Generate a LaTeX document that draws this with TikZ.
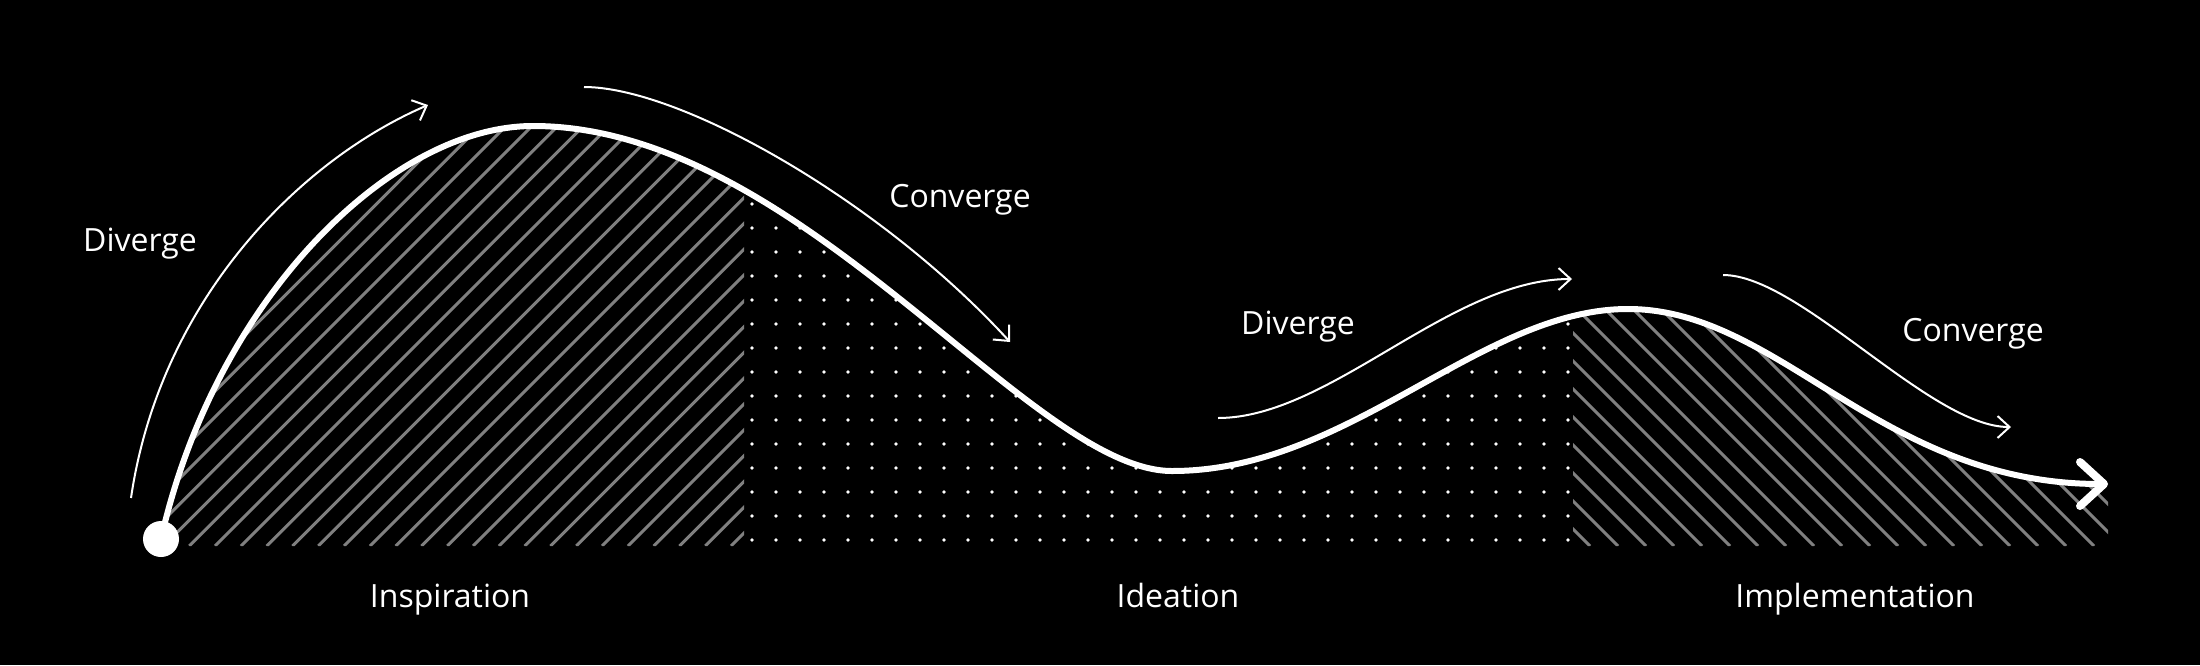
\documentclass[tikz,border=0pt]{standalone}
\usepackage{fontspec}
\setmainfont{Open Sans}
\usetikzlibrary{arrows.meta}

\begin{document}
\begin{tikzpicture}[x=0.5pt, y=-0.5pt,
    lbl/.style={text=white, inner sep=0pt, anchor=base, font=\fontsize{16}{19}\selectfont},
    thinarrow/.style={white, line width=1pt, -{Straight Barb[length=6pt, width=11pt]}},
    mainline/.style={white, line width=3pt, -{Straight Barb[length=12pt, width=22pt, line width=4pt, round]}},
    hatch/.style={gray, line width=1.5pt},
    wavepath/.style={insert path={(start) .. controls (215,300) and (390,126) .. (top1)
        .. controls (800,126) and (1030,471) .. (low)
        .. controls (1350,471) and (1480,309) .. (top2)
        .. controls (1780,309) and (1880,484) .. (end)}}]

    % Background
    \fill[black] (0,0) rectangle (2200,665);
    \useasboundingbox (0,0) rectangle (2200,665);

    % Define points of the curve
    \coordinate (start) at (161,539);
    \coordinate (top1) at (533,126);
    \coordinate (low) at (1172,471);
    \coordinate (top2) at (1628,309);
    \coordinate (end) at (2108,484);

    % Hatch under the first hill
    \begin{scope}
        \clip[wavepath] -- (2108,546) -- (161,546) -- cycle;
        \clip (161,0) rectangle (744,546);
        \foreach \x in {-378.3,-352.5,...,750}
            \draw[hatch] (\x,546) -- ++(500,-500);
    \end{scope}

    % Dots in the valley
    \begin{scope}
        \clip[wavepath] -- (2108,546) -- (161,546) -- cycle;
        \foreach \i in {0,...,34}
            \foreach \j in {0,...,17}
                \fill[white] (752+24*\i,540-24*\j) circle (0.9pt);
    \end{scope}

    % Hatch under the second hill
    \begin{scope}
        \clip[wavepath] -- (2108,546) -- (161,546) -- cycle;
        \clip (1573,0) rectangle (2109,546);
        \foreach \x in {1562,1590,...,2560}
            \draw[hatch] (\x,546) -- ++(-500,-500);
    \end{scope}

    % Define nodes
    \node[lbl] (div1) at (140,251) {Diverge};
    \node[lbl] (conv1) at (960,207) {Converge};
    \node[lbl] (div2) at (1298,334) {Diverge};
    \node[lbl] (conv2) at (1973,341) {Converge};
    \node[lbl] (insp) at (450,607) {Inspiration};
    \node[lbl] (idea) at (1178,607) {Ideation};
    \node[lbl] (impl) at (1855,607) {Implementation};

    \coordinate (d1a) at (131,498);
    \coordinate (d1b) at (428,105);
    \coordinate (c1a) at (584,87);
    \coordinate (c1b) at (1010,342);
    \coordinate (d2a) at (1218,418);
    \coordinate (d2b) at (1572,279);
    \coordinate (c2a) at (1723,275);
    \coordinate (c2b) at (2011,427);

    % Draw edges
    \draw[thinarrow] (d1a) .. controls (160,300) and (300,160) .. (d1b);
    \draw[thinarrow] (c1a) .. controls (680,87) and (880,200) .. (c1b);
    \draw[thinarrow] (d2a) .. controls (1330,418) and (1450,279) .. (d2b);
    \draw[thinarrow] (c2a) .. controls (1800,275) and (1930,427) .. (c2b);

    \draw[mainline, wavepath];
    \node[circle, fill=white, inner sep=0pt, minimum size=18pt] (origin) at (start) {};
\end{tikzpicture}
\end{document}
